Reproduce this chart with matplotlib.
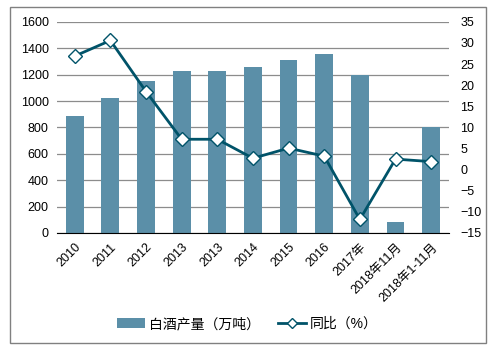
import matplotlib
matplotlib.use("Agg")
import matplotlib.pyplot as plt
from matplotlib.patches import Rectangle

plt.rcParams['font.family'] = ['Liberation Sans', 'Noto Sans CJK SC', 'DejaVu Sans']

categories = ['2010', '2011', '2012', '2013', '2013', '2014', '2015', '2016',
              '2017年', '2018年11月', '2018年1-11月']
output = [885, 1025, 1150, 1228, 1228, 1258, 1312, 1357, 1200, 83, 801]
growth = [26.9, 30.6, 18.5, 7.2, 7.2, 2.7, 5.1, 3.2, -11.8, 2.5, 1.9]

bar_color = '#5b8fa8'
line_color = '#005369'

fig = plt.figure(figsize=(4.95, 3.53), dpi=100)
ax = fig.add_axes([0.115, 0.34, 0.792, 0.598])
x = list(range(len(categories)))

ax.set_axisbelow(True)
ax.yaxis.grid(True, color='#8c8c8c', linewidth=0.9)
bars = ax.bar(x, output, width=0.5, color=bar_color, label='白酒产量（万吨）', zorder=2)
ax.set_ylim(0, 1600)
ax.set_yticks(range(0, 1601, 200))
ax.set_xlim(-0.5, len(categories) - 0.5)
ax.set_xticks(x)
ax.set_xticklabels(categories, rotation=45, ha='right', rotation_mode='anchor', fontsize=9)
ax.tick_params(axis='both', length=0, labelsize=9, pad=6)
for s in ['top', 'left', 'right']:
    ax.spines[s].set_visible(False)
ax.spines['bottom'].set_color('black')

ax2 = ax.twinx()
line, = ax2.plot(x, growth, color=line_color, linewidth=2, marker='D', markersize=7,
                 markerfacecolor='white', markeredgecolor=line_color, markeredgewidth=1,
                 label='同比（%）', zorder=3)
ax2.set_ylim(-15, 35)
ax2.set_yticks(range(-15, 36, 5))
ax2.tick_params(axis='y', length=0, labelsize=9, pad=8)
for s in ['top', 'left', 'right', 'bottom']:
    ax2.spines[s].set_visible(False)

fig.legend([bars, line], ['白酒产量（万吨）', '同比（%）'], loc='center',
           bbox_to_anchor=(0.5, 0.082), ncol=2, frameon=False, fontsize=10,
           handlelength=2.0, handletextpad=0.3, columnspacing=1.3, markerscale=0.8)

fig.patches.append(Rectangle((10 / 495, 1 - 343 / 353), 476 / 495, 336 / 353,
                             transform=fig.transFigure, fill=False,
                             edgecolor='#808080', linewidth=1))

fig.savefig('out.png', dpi=100)
